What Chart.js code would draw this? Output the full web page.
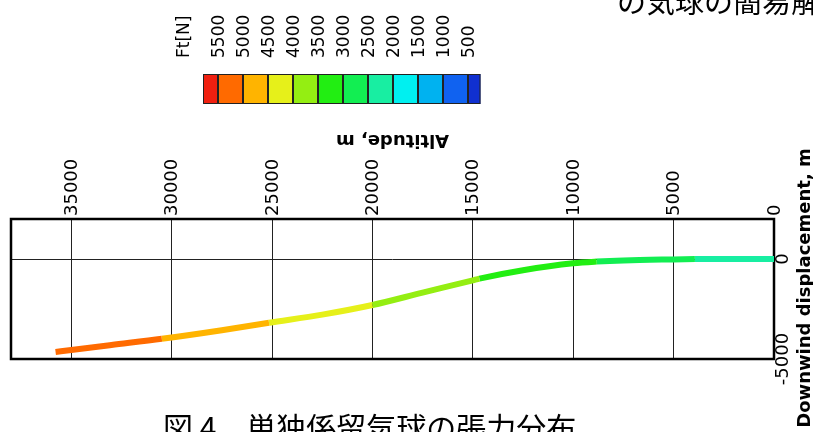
<!DOCTYPE html>
<html>
<head>
<meta charset="utf-8">
<script src="https://cdn.jsdelivr.net/npm/chart.js@4"></script>
<style>
html,body{margin:0;padding:0;background:#fff;}
#c{display:block;}
</style>
</head>
<body>
<canvas id="c" width="813" height="432"></canvas>
<script>
// ---- data ----
const altitude     = [0, 2500, 3940, 5000, 7500, 8830, 10000, 12500, 14670, 15000, 17500, 20000, 22500, 25150, 27500, 30490, 33000, 35000, 35780];
const displacement = [0, 0, -5, -20, -70, -130, -215, -560, -980, -1065, -1680, -2300, -2780, -3185, -3560, -3990, -4300, -4550, -4650];
const tensionFt    = [2100, 2300, 2550, 2650, 2900, 3050, 3150, 3350, 3550, 3570, 3800, 4050, 4300, 4550, 4800, 5050, 5250, 5400, 5480];

const ftLabels  = ['5500','5000','4500','4000','3500','3000','2500','2000','1500','1000','500'];
const ftValues  = [5500, 5000, 4500, 4000, 3500, 3000, 2500, 2000, 1500, 1000, 500];
const binColors = ['#f02010','#ff6a00','#ffb400','#e6f01a','#94ee12','#22ee12','#12ee52','#18eea2','#00f0f0','#00b2f0','#1062f0','#1030d0'];

const xTickValues = [0, 5000, 10000, 15000, 20000, 25000, 30000, 35000];
const yGridValues = [-5000, 0, 2000];
const yTickLabels = [0, -5000];
const xTitle = 'Altitude, m';
const yTitle = 'Downwind displacement, m';
const legendTitle = 'Ft[N]';
const topCaption = 'の気球の簡易解';
const bottomCaption = '図 4　単独係留気球の張力分布';

function binIndex(ft){ return ftValues.filter(b => b > ft).length; }

const FONT = '"DejaVu Sans", sans-serif';

const decor = {
  id: 'decor',
  beforeDatasetsDraw(chart){
    const ctx = chart.ctx, a = chart.chartArea;
    ctx.save();
    ctx.strokeStyle = '#000';
    ctx.lineWidth = 2.5;
    ctx.strokeRect(a.left, a.top, a.right - a.left, a.bottom - a.top);
    ctx.restore();
  },
  afterDraw(chart){
    const ctx = chart.ctx, a = chart.chartArea;
    const xs = chart.scales.x, ys = chart.scales.y;
    ctx.save();
    ctx.fillStyle = '#000';
    ctx.font = '18px ' + FONT;
    // x tick labels (rotated, reading upward)
    ctx.textAlign = 'left';
    ctx.textBaseline = 'middle';
    xs.ticks.forEach(t => {
      const px = xs.getPixelForValue(t.value);
      ctx.save();
      ctx.translate(px + 1, a.top - 3);
      ctx.rotate(-Math.PI/2);
      ctx.fillText(String(t.value), 0, 0);
      ctx.restore();
    });
    // y tick labels (rotated)
    ctx.textAlign = 'center';
    yTickLabels.forEach(v => {
      const py = ys.getPixelForValue(v);
      ctx.save();
      ctx.translate(a.right + 9, py);
      ctx.rotate(-Math.PI/2);
      ctx.fillText(String(v), 0, 0);
      ctx.restore();
    });
    // y title
    ctx.font = 'bold 18px ' + FONT;
    ctx.save();
    ctx.translate(805, 288);
    ctx.rotate(-Math.PI/2);
    ctx.fillText(yTitle, 0, 0);
    ctx.restore();
    // x title upside down
    ctx.save();
    ctx.translate((a.left + a.right)/2, 140);
    ctx.rotate(Math.PI);
    ctx.fillText(xTitle, 0, 0);
    ctx.restore();

    // colour bar legend
    const bx0 = 203, bw = 25, by = 74, bh = 30, edge = 15;
    let x = bx0;
    const bounds = [];
    binColors.forEach((c, i) => {
      const w = (i === 0 || i === binColors.length - 1) ? (i === 0 ? edge : 12.5) : bw;
      ctx.fillStyle = c;
      ctx.fillRect(x, by, w, bh);
      ctx.strokeStyle = '#222';
      ctx.lineWidth = 1;
      ctx.strokeRect(x + 0.5, by + 0.5, w - 1, bh - 1);
      x += w;
      if (i < binColors.length - 1) bounds.push(x);
    });
    ctx.fillStyle = '#000';
    ctx.font = '17px ' + FONT;
    ctx.textAlign = 'left';
    ctx.textBaseline = 'middle';
    ftLabels.forEach((t, i) => {
      ctx.save();
      ctx.translate(bounds[i] + 2, 58);
      ctx.rotate(-Math.PI/2);
      ctx.fillText(t, 0, 0);
      ctx.restore();
    });
    ctx.save();
    ctx.translate(185, 58);
    ctx.rotate(-Math.PI/2);
    ctx.fillText(legendTitle, 0, 0);
    ctx.restore();

    // Japanese captions
    ctx.font = '29px "Noto Sans CJK JP", sans-serif';
    ctx.textAlign = 'left';
    ctx.textBaseline = 'alphabetic';
    ctx.fillText(topCaption, 617, 13);
    ctx.font = '30px "Noto Sans CJK JP", sans-serif';
    ctx.fillText(bottomCaption, 163, 439);
    ctx.restore();
  }
};

new Chart(document.getElementById('c'), {
  type: 'line',
  data: {
    datasets: [{
      data: altitude.map((v, i) => ({x: v, y: displacement[i]})),
      borderWidth: 6,
      pointRadius: 0,
      borderCapStyle: 'butt',
      cubicInterpolationMode: 'monotone',
      segment: {
        borderColor: c => binColors[binIndex(tensionFt[c.p0DataIndex])]
      }
    }]
  },
  options: {
    responsive: false,
    animation: false,
    devicePixelRatio: 1,
    layout: { padding: { left: 11, right: 0, top: 0, bottom: 73 } },
    plugins: { legend: { display: false }, tooltip: { enabled: false } },
    scales: {
      x: {
        type: 'linear',
        position: 'top',
        reverse: true,
        min: 0,
        max: 38000,
        ticks: { display: false },
        grid: { color: '#222', lineWidth: 1, drawTicks: false },
        border: { display: false },
        afterBuildTicks(s){ s.ticks = xTickValues.map(v => ({value: v})); },
        afterFit(s){ s.height = 219; }
      },
      y: {
        type: 'linear',
        position: 'right',
        min: -5000,
        max: 2000,
        ticks: { display: false },
        grid: { color: '#222', lineWidth: 1, drawTicks: false },
        border: { display: false },
        afterBuildTicks(s){ s.ticks = yGridValues.map(v => ({value: v})); },
        afterFit(s){ s.width = 39; }
      }
    }
  },
  plugins: [decor]
});
</script>
</body>
</html>
